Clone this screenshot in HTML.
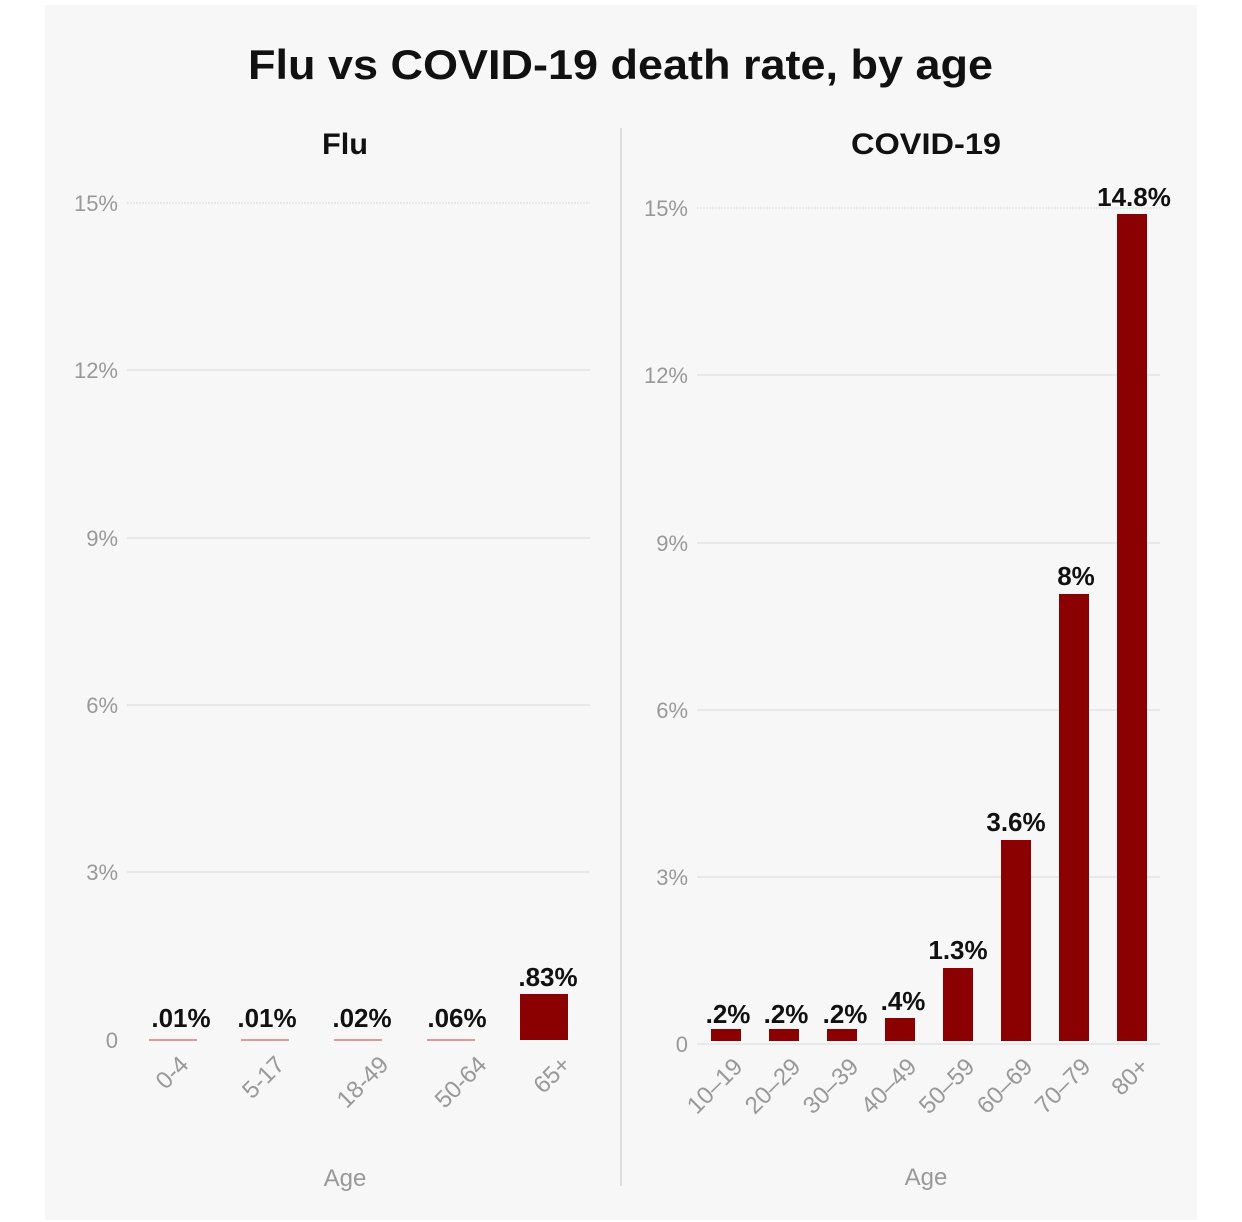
<!DOCTYPE html>
<html><head><meta charset="utf-8"><style>
html,body{margin:0;padding:0;background:#fff;}
svg{display:block;font-family:"Liberation Sans",sans-serif;}
</style></head><body>
<svg width="1242" height="1222" viewBox="0 0 1242 1222">
<rect x="45" y="5" width="1152" height="1215" fill="#f7f7f7"/>
<text x="248" y="79" font-size="42" font-weight="bold" fill="#111" textLength="745" lengthAdjust="spacingAndGlyphs">Flu vs COVID-19 death rate, by age</text>
<text x="322" y="154" font-size="30" font-weight="bold" fill="#111" textLength="46" lengthAdjust="spacingAndGlyphs">Flu</text>
<text x="851" y="154" font-size="30" font-weight="bold" fill="#111" textLength="150" lengthAdjust="spacingAndGlyphs">COVID-19</text>
<line x1="621" y1="128" x2="621" y2="1186" stroke="#ddd" stroke-width="2"/>
<g stroke="#e4e4e4" stroke-width="1.5">
<line x1="127" y1="203" x2="590" y2="203" stroke-dasharray="2 1"/><line x1="127" y1="370" x2="590" y2="370"/><line x1="127" y1="538" x2="590" y2="538"/><line x1="127" y1="705" x2="590" y2="705"/><line x1="127" y1="872" x2="590" y2="872"/>
<line x1="697" y1="208" x2="1160" y2="208" stroke-dasharray="2 1"/><line x1="697" y1="375" x2="1160" y2="375"/><line x1="697" y1="543" x2="1160" y2="543"/><line x1="697" y1="710" x2="1160" y2="710"/><line x1="697" y1="877" x2="1160" y2="877"/><line x1="697" y1="1044" x2="1160" y2="1044"/>
</g>
<g font-size="22" fill="#999" text-anchor="end">
<text x="118" y="211">15%</text><text x="118" y="378">12%</text><text x="118" y="546">9%</text><text x="118" y="713">6%</text><text x="118" y="880">3%</text><text x="118" y="1048">0</text>
<text x="688" y="216">15%</text><text x="688" y="383">12%</text><text x="688" y="551">9%</text><text x="688" y="718">6%</text><text x="688" y="885">3%</text><text x="688" y="1052">0</text>
</g>
<g stroke="#d99" stroke-width="2">
<line x1="149" y1="1040" x2="197" y2="1040"/><line x1="241" y1="1040" x2="289" y2="1040"/><line x1="334" y1="1040" x2="382" y2="1040"/><line x1="427" y1="1040" x2="475" y2="1040"/>
</g>
<g fill="#8b0000">
<rect x="520" y="994" width="48" height="46"/>
<rect x="711" y="1029" width="30" height="12"/><rect x="769" y="1029" width="30" height="12"/><rect x="827" y="1029" width="30" height="12"/><rect x="885" y="1018" width="30" height="23"/>
<rect x="943" y="968" width="30" height="73"/><rect x="1001" y="840" width="30" height="201"/><rect x="1059" y="594" width="30" height="447"/><rect x="1117" y="214" width="30" height="827"/>
</g>
<g font-size="26" font-weight="bold" fill="#111" text-anchor="middle">
<text x="181" y="1027">.01%</text><text x="267" y="1027">.01%</text><text x="362" y="1027">.02%</text><text x="457" y="1027">.06%</text><text x="548" y="986">.83%</text>
<text x="728" y="1023">.2%</text><text x="786" y="1023">.2%</text><text x="845" y="1023">.2%</text><text x="903" y="1010">.4%</text>
<text x="958" y="959">1.3%</text><text x="1016" y="831">3.6%</text><text x="1076" y="585">8%</text><text x="1134" y="206">14.8%</text>
</g>
<g font-size="24" fill="#999" text-anchor="end">
<text transform="translate(190,1066) rotate(-45)">0-4</text>
<text transform="translate(286,1066) rotate(-45)">5-17</text>
<text transform="translate(390,1066) rotate(-45)">18-49</text>
<text transform="translate(488,1066) rotate(-45)">50-64</text>
<text transform="translate(572,1066) rotate(-45)">65+</text>
<text transform="translate(744,1068) rotate(-45)">10–19</text>
<text transform="translate(802,1068) rotate(-45)">20–29</text>
<text transform="translate(860,1068) rotate(-45)">30–39</text>
<text transform="translate(918,1068) rotate(-45)">40–49</text>
<text transform="translate(976,1068) rotate(-45)">50–59</text>
<text transform="translate(1034,1068) rotate(-45)">60–69</text>
<text transform="translate(1092,1068) rotate(-45)">70–79</text>
<text transform="translate(1150,1068) rotate(-45)">80+</text>
</g>
<text x="345" y="1186" text-anchor="middle" font-size="24" fill="#999">Age</text>
<text x="926" y="1185" text-anchor="middle" font-size="24" fill="#999">Age</text>
</svg>
</body></html>
